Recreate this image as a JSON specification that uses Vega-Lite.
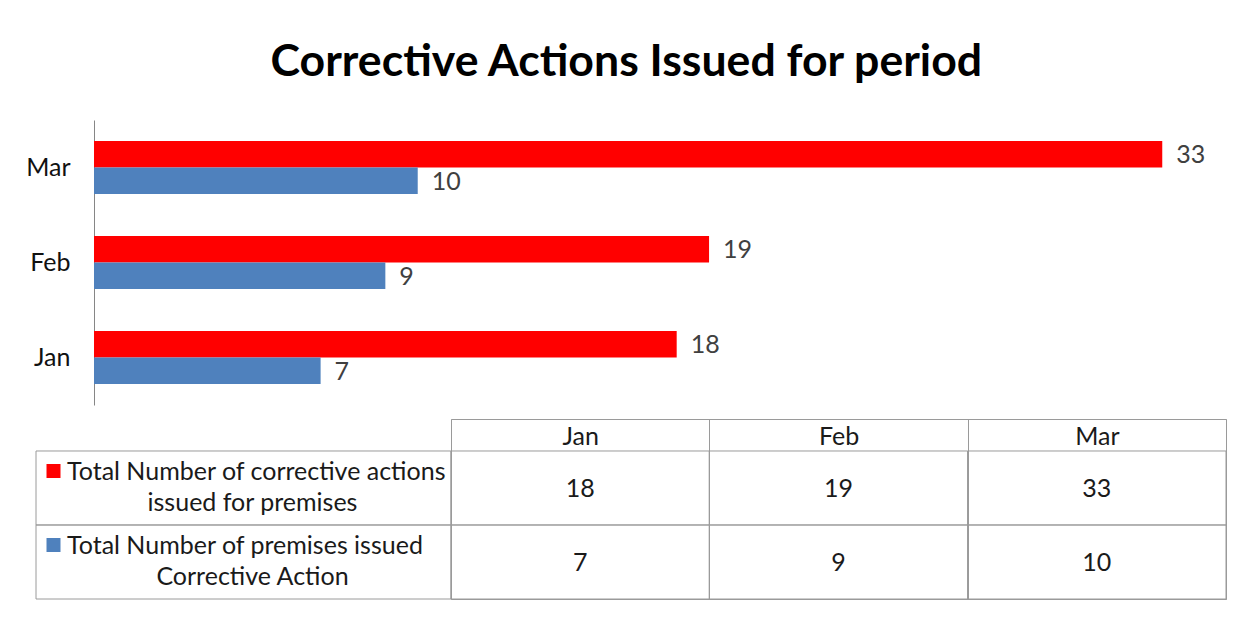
{
  "$schema": "https://vega.github.io/schema/vega-lite/v6.json",
  "background": "white",
  "padding": {"left": 25, "top": 40, "right": 10, "bottom": 10},
  "title": {
    "text": "Corrective Actions Issued for period",
    "font": "Lato",
    "fontSize": 44.6,
    "fontWeight": "bold",
    "color": "#000000",
    "anchor": "middle",
    "offset": 34
  },
  "datasets": {
    "counts": [
      {"month": "Jan", "series": "Total Number of corrective actions issued for premises", "value": 18},
      {"month": "Feb", "series": "Total Number of corrective actions issued for premises", "value": 19},
      {"month": "Mar", "series": "Total Number of corrective actions issued for premises", "value": 33},
      {"month": "Jan", "series": "Total Number of premises issued Corrective Action", "value": 7},
      {"month": "Feb", "series": "Total Number of premises issued Corrective Action", "value": 9},
      {"month": "Mar", "series": "Total Number of premises issued Corrective Action", "value": 10}
    ],
    "legend": [
      {"series": "Total Number of corrective actions issued for premises", "line1": "Total Number of corrective actions", "line2": "issued for premises"},
      {"series": "Total Number of premises issued Corrective Action", "line1": "Total Number of premises issued", "line2": "Corrective Action"}
    ]
  },
  "bounds": "flush",
  "spacing": 14,
  "vconcat": [
    {
      "width": 1191,
      "height": 285,
      "data": {"name": "counts"},
      "encoding": {
        "y": {
          "field": "month",
          "type": "nominal",
          "sort": ["Mar", "Feb", "Jan"],
          "scale": {"paddingInner": 0.44, "paddingOuter": 0.22},
          "axis": {
            "title": null,
            "offset": -58,
            "ticks": false,
            "grid": false,
            "domainColor": "#868686",
            "domainWidth": 1,
            "labelFont": "Lato",
            "labelFontSize": 25,
            "labelColor": "#111111",
            "labelPadding": 24
          }
        },
        "yOffset": {
          "field": "series",
          "type": "nominal",
          "sort": ["Total Number of corrective actions issued for premises", "Total Number of premises issued Corrective Action"],
          "scale": {"paddingInner": 0, "paddingOuter": 0}
        },
        "x": {
          "field": "value",
          "type": "quantitative",
          "scale": {"domain": [-1.792, 35], "nice": false, "zero": false},
          "axis": null
        }
      },
      "layer": [
        {
          "mark": {"type": "bar"},
          "encoding": {
            "x2": {"datum": 0},
            "color": {
              "field": "series",
              "type": "nominal",
              "scale": {
                "domain": ["Total Number of corrective actions issued for premises", "Total Number of premises issued Corrective Action"],
                "range": ["#FF0000", "#4F81BD"]
              },
              "legend": null
            }
          }
        },
        {
          "mark": {"type": "text", "align": "left", "baseline": "alphabetic", "dx": 14, "dy": 9, "font": "Lato", "fontSize": 25, "color": "#404040"},
          "encoding": {"text": {"field": "value", "type": "quantitative"}}
        }
      ]
    },
    {
      "spacing": 0,
      "bounds": "flush",
      "hconcat": [
        {
          "width": 415,
          "height": 180,
          "data": {"name": "legend"},
          "encoding": {
            "y": {
              "field": "series",
              "type": "nominal",
              "sort": ["Total Number of corrective actions issued for premises", "Total Number of premises issued Corrective Action"],
              "scale": {"paddingInner": 0, "paddingOuter": 0.2162, "align": 1},
              "axis": null
            }
          },
          "layer": [
            {"mark": {"type": "rect", "filled": false, "stroke": "#9a9a9a", "strokeWidth": 1}},
            {
              "mark": {"type": "text", "align": "left", "baseline": "alphabetic", "dx": -176.5, "dy": -8, "font": "Lato", "fontSize": 25, "color": "#1a1a1a"},
              "encoding": {"text": {"field": "line1"}}
            },
            {
              "mark": {"type": "text", "align": "center", "baseline": "alphabetic", "dx": 9, "dy": 23, "font": "Lato", "fontSize": 25, "color": "#1a1a1a"},
              "encoding": {"text": {"field": "line2"}}
            },
            {
              "mark": {"type": "point", "shape": "square", "filled": true, "opacity": 1, "size": 196, "xOffset": -190, "yOffset": -17},
              "encoding": {
                "color": {
                  "field": "series",
                  "type": "nominal",
                  "scale": {
                    "domain": ["Total Number of corrective actions issued for premises", "Total Number of premises issued Corrective Action"],
                    "range": ["#FF0000", "#4F81BD"]
                  },
                  "legend": null
                }
              }
            }
          ]
        },
        {
          "width": 775,
          "height": 180,
          "view": {"stroke": "#9a9a9a", "strokeWidth": 1},
          "data": {"name": "counts"},
          "encoding": {
            "x": {
              "field": "month",
              "type": "nominal",
              "sort": ["Jan", "Feb", "Mar"],
              "scale": {"paddingInner": 0, "paddingOuter": 0},
              "axis": {
                "orient": "top",
                "title": null,
                "domain": false,
                "ticks": false,
                "grid": true,
                "tickBand": "extent",
                "gridColor": "#9a9a9a",
                "gridOpacity": 1,
                "labelAngle": 0,
                "labelFont": "Lato",
                "labelFontSize": 25,
                "labelColor": "#1a1a1a",
                "labelBaseline": "alphabetic",
                "labelPadding": -25
              }
            },
            "y": {
              "field": "series",
              "type": "nominal",
              "sort": ["Total Number of corrective actions issued for premises", "Total Number of premises issued Corrective Action"],
              "scale": {"paddingInner": 0, "paddingOuter": 0.2162, "align": 1},
              "axis": null
            }
          },
          "layer": [
            {"mark": {"type": "rect", "filled": false, "stroke": "#9a9a9a", "strokeWidth": 1}},
            {
              "mark": {"type": "text", "baseline": "alphabetic", "dy": 9, "font": "Lato", "fontSize": 25, "color": "#1a1a1a"},
              "encoding": {"text": {"field": "value", "type": "quantitative"}}
            }
          ]
        }
      ]
    }
  ],
  "config": {
    "view": {"stroke": null},
    "font": "Lato"
  }
}
